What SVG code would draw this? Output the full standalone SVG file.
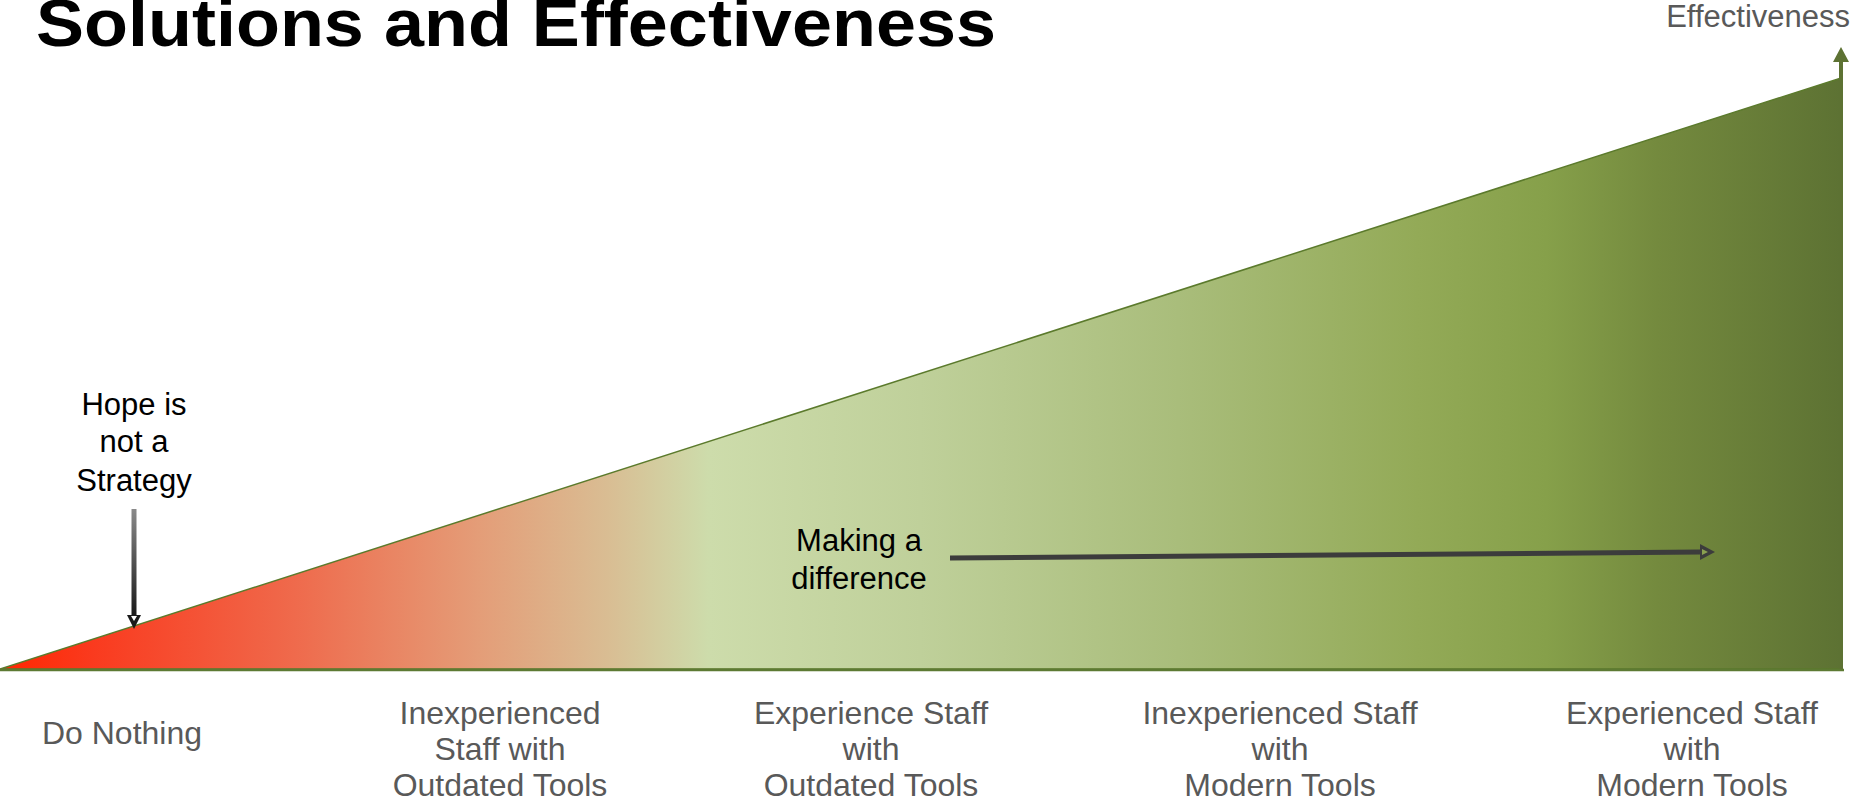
<svg xmlns="http://www.w3.org/2000/svg" width="1853" height="801" viewBox="0 0 1853 801">
<style>
.title{font-family:"Liberation Sans",Arial,sans-serif;font-weight:bold;font-size:67px;fill:#000}
.axis{font-family:"Liberation Sans",Arial,sans-serif;font-size:31px;fill:#595959}
.lbl{font-family:"Liberation Sans",Arial,sans-serif;font-size:32px;fill:#595959;text-anchor:middle}
.note{font-family:"Liberation Sans",Arial,sans-serif;font-size:31px;fill:#000;text-anchor:middle}
</style>
<defs>
<linearGradient id="ramp" gradientUnits="userSpaceOnUse" x1="0" y1="0" x2="1841" y2="0">
<stop offset="0" stop-color="#ff2600"/>
<stop offset="0.05" stop-color="#fa3a1e"/>
<stop offset="0.16" stop-color="#ef6a4c"/>
<stop offset="0.26" stop-color="#e49d78"/>
<stop offset="0.33" stop-color="#d9bd93"/>
<stop offset="0.385" stop-color="#cddcab"/>
<stop offset="0.5" stop-color="#bfd09a"/>
<stop offset="0.64" stop-color="#a9bd7b"/>
<stop offset="0.77" stop-color="#93aa57"/>
<stop offset="0.84" stop-color="#86a04a"/>
<stop offset="0.9" stop-color="#748a3e"/>
<stop offset="1" stop-color="#5d7233"/>
</linearGradient>
<linearGradient id="shaft" x1="0" y1="0" x2="0" y2="1">
<stop offset="0" stop-color="#8a8a8a"/>
<stop offset="1" stop-color="#1a1a1a"/>
</linearGradient>
</defs>

<g id="title">
<text class="title" x="36" y="46" textLength="960" lengthAdjust="spacingAndGlyphs">Solutions and Effectiveness</text>
</g>

<g id="effectiveness-wedge">
<polygon points="0,669 1841,78 1841,669" fill="url(#ramp)" stroke="#5b7a2c" stroke-width="1.5" stroke-linejoin="miter"/>
<line x1="0" y1="670" x2="1844" y2="670" stroke="#5d7a33" stroke-width="2.5"/>
</g>

<g id="axis-label">
<text class="axis" x="1850" y="27" text-anchor="end">Effectiveness</text>
</g>

<g id="label-do-nothing">
<text class="lbl" x="122" y="744">Do Nothing</text>
</g>
<g id="label-inexperienced-outdated">
<text class="lbl" x="500" y="724">Inexperienced</text>
<text class="lbl" x="500" y="760">Staff with</text>
<text class="lbl" x="500" y="796">Outdated Tools</text>
</g>
<g id="label-experience-outdated">
<text class="lbl" x="871" y="724">Experience Staff</text>
<text class="lbl" x="871" y="760">with</text>
<text class="lbl" x="871" y="796">Outdated Tools</text>
</g>
<g id="label-inexperienced-modern">
<text class="lbl" x="1280" y="724">Inexperienced Staff</text>
<text class="lbl" x="1280" y="760">with</text>
<text class="lbl" x="1280" y="796">Modern Tools</text>
</g>
<g id="label-experienced-modern">
<text class="lbl" x="1692" y="724">Experienced Staff</text>
<text class="lbl" x="1692" y="760">with</text>
<text class="lbl" x="1692" y="796">Modern Tools</text>
</g>

<g id="note-hope">
<text class="note" x="134" y="415">Hope is</text>
<text class="note" x="134" y="452">not a</text>
<text class="note" x="134" y="491">Strategy</text>
</g>
<g id="note-difference">
<text class="note" x="859" y="551">Making a</text>
<text class="note" x="859" y="589">difference</text>
</g>

<g id="connectors">
<line x1="1841" y1="669" x2="1841" y2="61" stroke="#5d7233" stroke-width="4"/>
<polygon points="1833,62 1841,47 1849,62" fill="#5d7233"/>
<rect x="131.5" y="509" width="5" height="106" fill="url(#shaft)"/>
<polygon points="127,615 141,615 134,629" fill="#1a1a1a"/>
<polygon points="131,616 137,616 134,621" fill="#ffffff"/>
<line x1="950" y1="558" x2="1701" y2="552" stroke="#3c3c3c" stroke-width="5"/>
<polygon points="1700,544 1715,552 1700,560" fill="#3c3c3c"/>
<polygon points="1702,549 1708,552 1702,555" fill="#8aa050"/>
</g>
</svg>
